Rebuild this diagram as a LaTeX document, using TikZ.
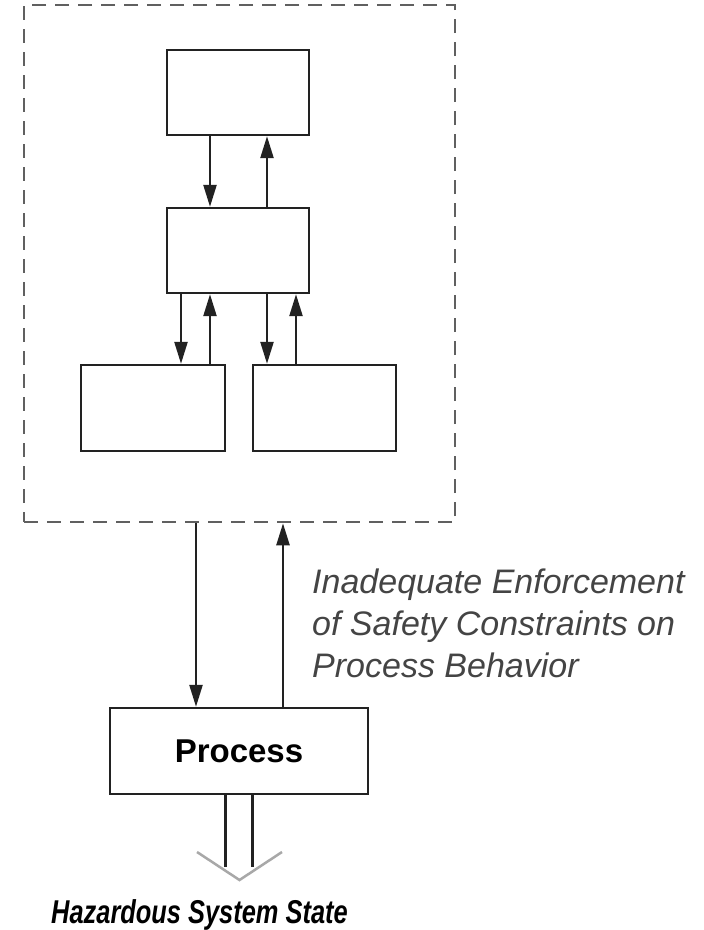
\documentclass[tikz,border=0pt]{standalone}
\usepackage{fontspec}
\setmainfont{Liberation Sans}
\usetikzlibrary{arrows.meta}
\definecolor{edge}{HTML}{222222}
\definecolor{dashgray}{HTML}{606060}
\definecolor{labelgray}{HTML}{444444}
\definecolor{chevgray}{HTML}{A8A8A8}
\begin{document}
\begin{tikzpicture}[x=1pt,y=-1pt,
  blk/.style={draw=edge,line width=2.4pt,rectangle,inner sep=0pt},
  arr/.style={draw=edge,line width=2.4pt,-{Triangle[length=22pt,width=13pt]}},
  ctrlbox/.style={draw=dashgray,line width=2.6pt,dash pattern=on 14pt off 9pt,rectangle,inner sep=0pt},
  rail/.style={draw=edge,line width=2.2pt},
  chev/.style={draw=chevgray,line width=2.5pt,line join=miter}]
  \useasboundingbox (0,0) rectangle (704,930);
  \fill[white] (0,0) rectangle (704,930);

  % controller hierarchy inside the dashed boundary
  \node[ctrlbox,minimum width=431pt,minimum height=517pt] (ctrl) at (239.5,263.5) {};
  \node[blk,minimum width=142pt,minimum height=85pt] (top) at (238,92.5) {};
  \node[blk,minimum width=142pt,minimum height=85pt] (mid) at (238,250.5) {};
  \node[blk,minimum width=144pt,minimum height=86pt] (bl) at (153,408) {};
  \node[blk,minimum width=143pt,minimum height=86pt] (br) at (324.5,408) {};

  % controlled process
  \node[blk,minimum width=258pt,minimum height=86pt,font=\fontsize{33}{39}\selectfont\bfseries] (proc) at (239,751) {Process};

  % control and feedback between levels
  \draw[arr] ([xshift=-28pt]top.south) -- ([xshift=-28pt]top.south |- mid.north);
  \draw[arr] ([xshift=29pt]mid.north) -- ([xshift=29pt]mid.north |- top.south);
  \draw[arr] ([xshift=-57pt]mid.south) -- ([xshift=-57pt]mid.south |- bl.north);
  \draw[arr] ([xshift=-28pt]bl.north -| mid.south) -- ([xshift=-28pt]mid.south);
  \draw[arr] ([xshift=29pt]mid.south) -- ([xshift=29pt]mid.south |- br.north);
  \draw[arr] ([xshift=58pt]br.north -| mid.south) -- ([xshift=58pt]mid.south);

  \draw[arr] ([xshift=-43pt]proc.north |- ctrl.south) -- ([xshift=-43pt]proc.north);
  \draw[arr] ([xshift=44pt]proc.north) -- ([xshift=44pt]proc.north |- ctrl.south);

  % label for the feedback path (base anchor sits on the last line)
  \node[anchor=base west,align=left,inner sep=0pt,text=labelgray,
        font=\fontsize{34}{42}\selectfont\itshape] (lbl) at (312,677)
        {Inadequate Enforcement\\of Safety Constraints on\\Process Behavior};

  % hollow output arrow to the hazardous state
  \coordinate (cl) at (197,852);
  \coordinate (cv) at (239.5,880);
  \coordinate (cr) at (282,852);
  \draw[rail] ([xshift=-13.5pt]proc.south) -- ++(0,72);
  \draw[rail] ([xshift=13.5pt]proc.south) -- ++(0,72);
  \draw[chev] (cl) -- (cv) -- (cr);

  \node[anchor=base,inner sep=0pt,font=\fontsize{33}{39}\selectfont\bfseries\itshape] (haz) at (199.5,923)
        {\scalebox{0.77}[1]{Hazardous System State}};
\end{tikzpicture}
\end{document}
